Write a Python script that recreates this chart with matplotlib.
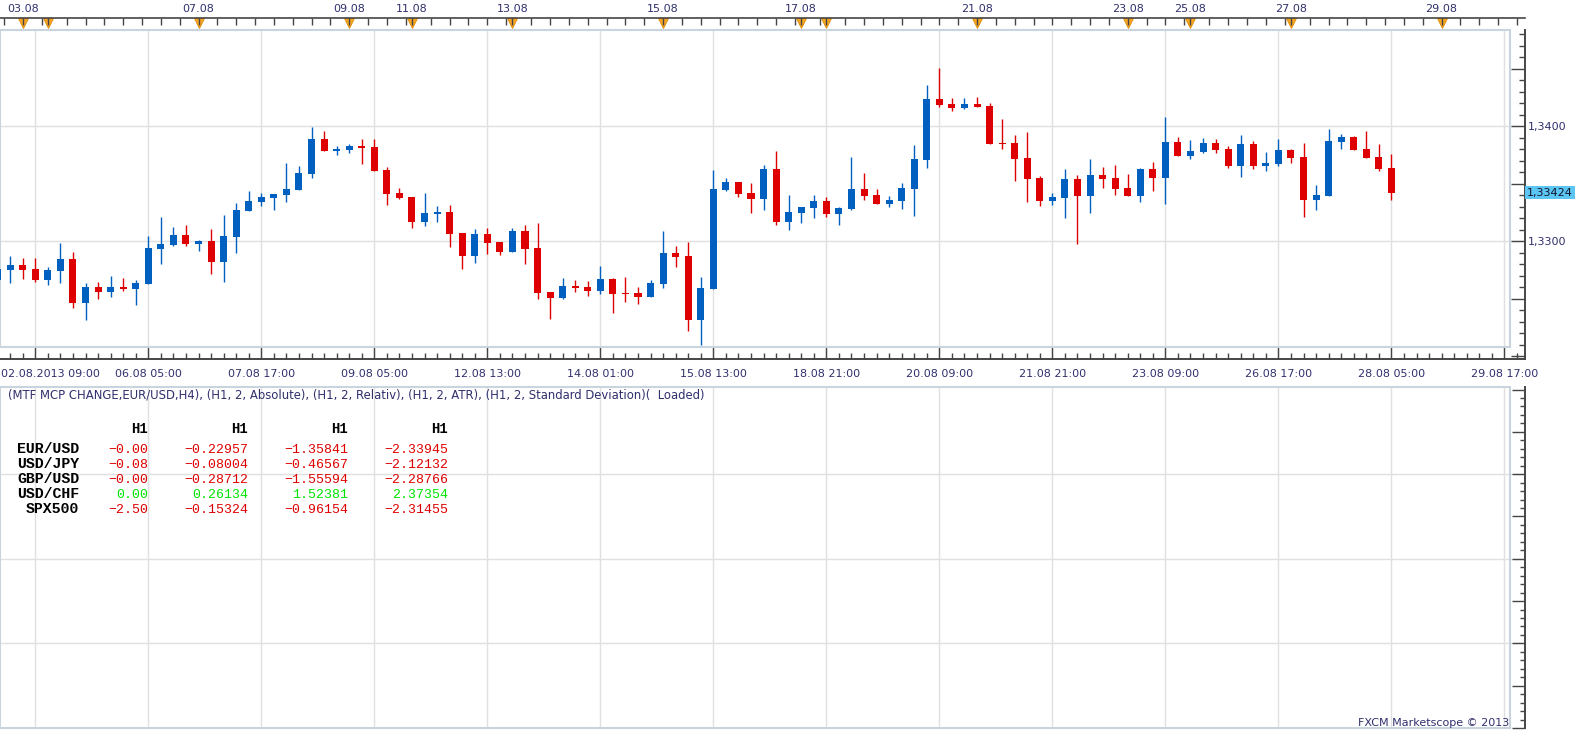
import matplotlib
matplotlib.use('Agg')
import matplotlib.pyplot as plt
from matplotlib.patches import Rectangle
from matplotlib.ticker import MultipleLocator, FuncFormatter

plt.rcParams['font.family'] = 'DejaVu Sans'

# EUR/USD H4 candles (02.08 - 28.08.2013)
opens = [1.32663, 1.32750, 1.32793, 1.32759, 1.32663, 1.32741, 1.32846, 1.32463, 1.32602, 1.32558,
         1.32602, 1.32585, 1.32628, 1.32933, 1.32967, 1.33054, 1.32976, 1.33002, 1.32819, 1.33037,
         1.33263, 1.33341, 1.33376, 1.33402, 1.33446, 1.33585, 1.33890, 1.33785, 1.33794, 1.33829,
         1.33820, 1.33620, 1.33420, 1.33385, 1.33167, 1.33237, 1.33254, 1.33072, 1.32872, 1.33063,
         1.32993, 1.32906, 1.33089, 1.32941, 1.32558, 1.32506, 1.32611, 1.32602, 1.32567, 1.32672,
         1.32550, 1.32550, 1.32515, 1.32628, 1.32898, 1.32872, 1.32315, 1.32585, 1.33446, 1.33515,
         1.33420, 1.33368, 1.33629, 1.33167, 1.33246, 1.33289, 1.33350, 1.33237, 1.33281, 1.33455,
         1.33402, 1.33324, 1.33350, 1.33455, 1.33707, 1.34238, 1.34194, 1.34159, 1.34194, 1.34177,
         1.33855, 1.33855, 1.33724, 1.33550, 1.33350, 1.33376, 1.33542, 1.33394, 1.33576, 1.33550,
         1.33463, 1.33394, 1.33629, 1.33550, 1.33863, 1.33742, 1.33776, 1.33855, 1.33803, 1.33655,
         1.33846, 1.33655, 1.33672, 1.33794, 1.33733, 1.33359, 1.33394, 1.33863, 1.33907, 1.33803,
         1.33733, 1.33637]
highs = [1.32776, 1.32872, 1.32852, 1.32852, 1.32776, 1.32985, 1.32906, 1.32637, 1.32645, 1.32698,
         1.32680, 1.32663, 1.33046, 1.33211, 1.33124, 1.33141, 1.33011, 1.33107, 1.33228, 1.33333,
         1.33437, 1.33420, 1.33411, 1.33681, 1.33655, 1.33994, 1.33959, 1.33829, 1.33846, 1.33890,
         1.33890, 1.33646, 1.33463, 1.33385, 1.33420, 1.33307, 1.33315, 1.33072, 1.33107, 1.33115,
         1.32993, 1.33115, 1.33141, 1.33159, 1.32558, 1.32680, 1.32663, 1.32654, 1.32785, 1.32680,
         1.32689, 1.32602, 1.32663, 1.33089, 1.32959, 1.32993, 1.32689, 1.33620, 1.33550, 1.33515,
         1.33507, 1.33663, 1.33785, 1.33402, 1.33298, 1.33402, 1.33385, 1.33298, 1.33733, 1.33594,
         1.33455, 1.33394, 1.33507, 1.33837, 1.34359, 1.34507, 1.34246, 1.34246, 1.34255, 1.34203,
         1.34064, 1.33924, 1.33950, 1.33568, 1.33420, 1.33629, 1.33576, 1.33716, 1.33646, 1.33663,
         1.33585, 1.33637, 1.33689, 1.34081, 1.33907, 1.33881, 1.33898, 1.33890, 1.33829, 1.33924,
         1.33872, 1.33776, 1.33890, 1.33803, 1.33855, 1.33489, 1.33977, 1.33933, 1.33916, 1.33959,
         1.33846, 1.33759]
lows = [1.32645, 1.32640, 1.32672, 1.32648, 1.32619, 1.32640, 1.32419, 1.32315, 1.32498, 1.32515,
        1.32567, 1.32445, 1.32628, 1.32802, 1.32959, 1.32959, 1.32915, 1.32715, 1.32645, 1.32898,
        1.33263, 1.33307, 1.33272, 1.33341, 1.33446, 1.33550, 1.33785, 1.33750, 1.33768, 1.33672,
        1.33611, 1.33315, 1.33368, 1.33115, 1.33133, 1.33167, 1.32950, 1.32759, 1.32811, 1.32889,
        1.32880, 1.32906, 1.32802, 1.32498, 1.32324, 1.32498, 1.32558, 1.32524, 1.32541, 1.32376,
        1.32471, 1.32454, 1.32515, 1.32593, 1.32776, 1.32219, 1.32097, 1.32585, 1.33437, 1.33385,
        1.33246, 1.33272, 1.33141, 1.33098, 1.33159, 1.33202, 1.33211, 1.33141, 1.33272, 1.33359,
        1.33324, 1.33298, 1.33281, 1.33220, 1.33637, 1.34168, 1.34133, 1.34151, 1.34168, 1.33846,
        1.33803, 1.33524, 1.33341, 1.33307, 1.33315, 1.33202, 1.32976, 1.33246, 1.33463, 1.33402,
        1.33394, 1.33341, 1.33437, 1.33324, 1.33742, 1.33716, 1.33768, 1.33768, 1.33637, 1.33559,
        1.33629, 1.33611, 1.33655, 1.33681, 1.33211, 1.33272, 1.33394, 1.33803, 1.33794, 1.33724,
        1.33611, 1.33359]
closes = [1.32759, 1.32793, 1.32750, 1.32663, 1.32750, 1.32846, 1.32463, 1.32602, 1.32558, 1.32602,
          1.32585, 1.32637, 1.32941, 1.32976, 1.33054, 1.32976, 1.33002, 1.32819, 1.33046, 1.33272,
          1.33350, 1.33385, 1.33411, 1.33455, 1.33594, 1.33890, 1.33785, 1.33803, 1.33829, 1.33811,
          1.33611, 1.33411, 1.33376, 1.33167, 1.33246, 1.33254, 1.33063, 1.32872, 1.33063, 1.32985,
          1.32906, 1.33089, 1.32933, 1.32550, 1.32506, 1.32611, 1.32593, 1.32567, 1.32672, 1.32541,
          1.32541, 1.32515, 1.32637, 1.32898, 1.32863, 1.32315, 1.32593, 1.33455, 1.33515, 1.33411,
          1.33368, 1.33629, 1.33167, 1.33254, 1.33298, 1.33350, 1.33237, 1.33289, 1.33455, 1.33394,
          1.33324, 1.33359, 1.33463, 1.33716, 1.34238, 1.34185, 1.34159, 1.34194, 1.34168, 1.33846,
          1.33846, 1.33716, 1.33542, 1.33350, 1.33385, 1.33542, 1.33394, 1.33576, 1.33542, 1.33455,
          1.33394, 1.33629, 1.33550, 1.33863, 1.33742, 1.33785, 1.33855, 1.33794, 1.33655, 1.33846,
          1.33655, 1.33681, 1.33794, 1.33724, 1.33359, 1.33402, 1.33872, 1.33907, 1.33794, 1.33724,
          1.33629, 1.33424]
last_price = 1.33424

# bottom time axis: a label every 9th candle
time_ticks = [3, 12, 21, 30, 39, 48, 57, 66, 75, 84, 93, 102, 111, 120]
time_labels = ['02.08.2013 09:00', '06.08 05:00', '07.08 17:00', '09.08 05:00', '12.08 13:00',
               '14.08 01:00', '15.08 13:00', '18.08 21:00', '20.08 09:00', '21.08 21:00',
               '23.08 09:00', '26.08 17:00', '28.08 05:00', '29.08 17:00']

# day markers on the top strip (candle index where the day starts)
day_marks = [2, 4, 16, 28, 33, 41, 53, 64, 66, 78, 90, 95, 103, 115]
day_labels = ['03.08', '', '07.08', '09.08', '11.08', '13.08', '15.08', '17.08', '',
              '21.08', '23.08', '25.08', '27.08', '29.08']

price_labels = [1.33, 1.34]

# indicator table
pairs = ['EUR/USD', 'USD/JPY', 'GBP/USD', 'USD/CHF', 'SPX500']
col_absolute = ['-0.00', '-0.08', '-0.00', '0.00', '-2.50']
col_relativ = ['-0.22957', '-0.08004', '-0.28712', '0.26134', '-0.15324']
col_atr = ['-1.35841', '-0.46567', '-1.55594', '1.52381', '-0.96154']
col_stdev = ['-2.33945', '-2.12132', '-2.28766', '2.37354', '-2.31455']
headers = ['H1', 'H1', 'H1', 'H1']

title = ('(MTF MCP CHANGE,EUR/USD,H4), (H1, 2, Absolute), (H1, 2, Relativ), (H1, 2, ATR), '
         '(H1, 2, Standard Deviation)(  Loaded)')

BLUE = '#0060BF'
RED = '#DE0000'
GRID = '#E0E0E0'
FRAME = '#C9D4DF'
AXIS = '#454545'
NAVY = '#30306E'
ORANGE = '#F6A623'

W, H = 1583, 730


def box(x0, y0, x1, y1):
    return [x0 / W, 1 - y1 / H, (x1 - x0) / W, (y1 - y0) / H]


fig = plt.figure(figsize=(W / 100, H / 100), dpi=100)
ax = fig.add_axes(box(0, 30, 1525, 359))
ax_top = fig.add_axes(box(0, 0, 1525, 18))
ax_low = fig.add_axes(box(0, 387, 1525, 728))

x_lo, x_hi, x_frame = 0.19, 121.64, 120.45
y_lo, y_hi, y_frame = 1.31977, 1.34837, 1.32081

# ---- main candle chart ----
xs = list(range(len(opens)))
colors = [BLUE if c > o else RED for o, c in zip(opens, closes)]
bottoms = [min(o, c) for o, c in zip(opens, closes)]
heights = [max(abs(c - o), 0.00012) for o, c in zip(opens, closes)]

ax.vlines(xs, lows, highs, colors=colors, lw=1.0, zorder=3)
ax.bar(xs, heights, bottom=bottoms, width=0.56, color=colors, linewidth=0, zorder=4)

ax.set_xlim(x_lo, x_hi)
ax.set_ylim(y_lo, y_hi)
ax.add_patch(Rectangle((x_lo, y_frame), x_frame - x_lo, y_hi - y_frame, fill=False,
                       ec=FRAME, lw=1.5, zorder=2, clip_on=False))

ax.set_xticks(time_ticks)
ax.set_xticklabels([''] + time_labels[1:])
ax.xaxis.set_minor_locator(MultipleLocator(1))
ax.grid(axis='x', which='major', color=GRID, lw=1.0)
for p in price_labels:
    ax.axhline(p, color=GRID, lw=1.0, zorder=1)
ax.tick_params(axis='x', which='major', direction='in', length=8.6, width=1, color=AXIS,
               labelsize=8, labelcolor=NAVY, pad=7)
ax.tick_params(axis='x', which='minor', direction='in', length=4.3, width=1, color=AXIS)
ax.annotate(time_labels[0], xy=(0, 0), xycoords='axes fraction', xytext=(1, -7),
            textcoords='offset points', ha='left', va='top', fontsize=8, color=NAVY)

ax.yaxis.tick_right()
ax.yaxis.set_major_locator(MultipleLocator(0.005))
ax.yaxis.set_minor_locator(MultipleLocator(0.001))
ax.yaxis.set_major_formatter(FuncFormatter(
    lambda v, pos: f'{v:.4f}'.replace('.', ',') if any(abs(v - p) < 1e-6 for p in price_labels) else ''))
ax.tick_params(axis='y', which='major', direction='in', length=10, width=1, color=AXIS,
               labelsize=8, labelcolor=NAVY, pad=2)
ax.tick_params(axis='y', which='minor', direction='in', length=4, width=1, color=AXIS)

for s in ['left', 'top']:
    ax.spines[s].set_visible(False)
for s in ['right', 'bottom']:
    ax.spines[s].set_color(AXIS)
    ax.spines[s].set_linewidth(1.4)

ax.annotate(f'{last_price:.5f}'.replace('.', ','), xy=(1, last_price),
            xycoords=('axes fraction', 'data'), xytext=(1.5, 0), textcoords='offset points',
            ha='left', va='center', fontsize=8, color='#151530',
            bbox=dict(boxstyle='square,pad=0.15', fc='#5CC6F2', ec='none'))

# ---- top date strip ----
ax_top.set_xlim(x_lo, x_hi)
ax_top.set_ylim(0, 1)
strip_ticks = [0.5]
for i, d in enumerate(day_marks):
    nxt = day_marks[i + 1] if i + 1 < len(day_marks) else x_hi
    t = d
    while t < nxt - 0.2:
        strip_ticks.append(t)
        t += 1.5
ax_top.set_xticks(strip_ticks)
ax_top.set_yticks([])
ax_top.tick_params(axis='x', direction='out', length=5, width=1, color=AXIS, labelbottom=False)
for s in ['left', 'top', 'right']:
    ax_top.spines[s].set_visible(False)
ax_top.spines['bottom'].set_color(AXIS)
ax_top.spines['bottom'].set_linewidth(1.2)
ax_top.plot(day_marks, [-0.3] * len(day_marks), 'v', ms=7.5, color=ORANGE, mec='#E08C00',
            mew=0.6, clip_on=False, zorder=1)
for d, lab in zip(day_marks, day_labels):
    ax_top.text(d, 0.31, lab, ha='center', va='baseline', fontsize=8, color=NAVY)

# ---- lower indicator panel ----
ax_low.set_xlim(x_lo, x_hi)
ax_low.set_ylim(0, 8.06)
ax_low.add_patch(Rectangle((x_lo, 0), x_frame - x_lo, 8.06, fill=False,
                           ec=FRAME, lw=1.5, zorder=2, clip_on=False))
ax_low.set_xticks(time_ticks)
ax_low.grid(axis='x', which='major', color=GRID, lw=1.0)
ax_low.tick_params(axis='x', length=0, labelbottom=False)
for g in [2, 4, 6]:
    ax_low.axhline(g, color=GRID, lw=1.0, zorder=1)
ax_low.yaxis.tick_right()
ax_low.yaxis.set_major_locator(MultipleLocator(1))
ax_low.yaxis.set_minor_locator(MultipleLocator(0.2))
ax_low.tick_params(axis='y', which='major', direction='in', length=9.5, width=1, color=AXIS,
                   labelright=False)
ax_low.tick_params(axis='y', which='minor', direction='in', length=3.6, width=1, color=AXIS)
for s in ['left', 'top', 'bottom']:
    ax_low.spines[s].set_visible(False)
ax_low.spines['right'].set_color(AXIS)
ax_low.spines['right'].set_linewidth(1.4)

fig.text(8 / W, 1 - 399 / H, title, fontsize=8.4, color=NAVY, va='baseline')

col_right = [148, 248, 348, 448]
for j, h in enumerate(headers):
    fig.text(col_right[j] / W, 1 - 433 / H, h, ha='right', va='baseline',
             family='Liberation Mono', weight='bold', fontsize=10, color='black')
columns = [col_absolute, col_relativ, col_atr, col_stdev]
for i, pair in enumerate(pairs):
    yb = 1 - (453 + 15 * i) / H
    fig.text(79 / W, yb, pair, ha='right', va='baseline', family='Liberation Mono',
             weight='bold', fontsize=10.7, color='black')
    for j, col in enumerate(columns):
        val = col[i]
        fig.text(col_right[j] / W, yb, val.replace('-', '\u2212'), ha='right', va='baseline',
                 family='Liberation Mono', fontsize=9.5,
                 color=RED if val.startswith('-') else '#00E400')

fig.text(1509 / W, 1 - 726 / H, 'FXCM Marketscope \u00a9 2013', ha='right', va='baseline',
         fontsize=8, color=NAVY)

fig.savefig('out.png', dpi=100)
